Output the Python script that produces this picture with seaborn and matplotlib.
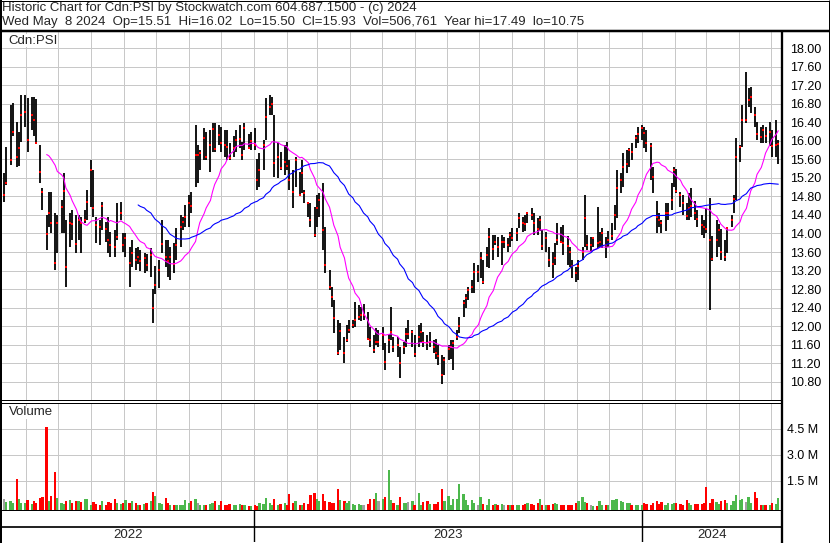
"""Stockwatch-style historic chart for Cdn:PSI: price bars with two moving
averages, a volume panel and a year strip underneath."""

import matplotlib

matplotlib.use("Agg")
import matplotlib.pyplot as plt
import pandas as pd
import seaborn as sns

# One bar per two trading days (May 2022 - May 2024).
HIGH = [
    15.30, 15.86, 16.77, 16.82, 16.40, 16.20, 16.99, 16.98, 16.92, 16.95,
    16.95, 16.90, 15.90, 14.98, 14.40, 14.90, 14.90, 14.44, 14.40, 14.72,
    15.30, 14.29, 14.44, 14.50, 14.40, 14.40, 14.35, 14.50, 14.94, 15.58,
    15.37, 14.35, 14.30, 14.67, 14.25, 14.35, 14.03, 14.07, 14.65, 14.67,
    14.00, 14.00, 13.70, 13.86, 13.68, 13.70, 13.65, 13.57, 13.55, 13.68,
    12.80, 13.30, 13.42, 14.29, 13.86, 13.86, 13.70, 13.80, 14.11, 14.40,
    14.35, 14.61, 14.83, 14.89, 16.34, 15.91, 15.80, 16.28, 16.20, 16.23,
    16.39, 16.39, 16.34, 16.30, 16.23, 16.23, 15.95, 16.10, 16.23, 16.34,
    15.97, 16.39, 16.15, 16.20, 16.28, 15.60, 15.73, 16.02, 16.92, 16.99,
    16.95, 16.55, 15.95, 15.75, 15.91, 15.97, 15.58, 15.37, 15.65, 15.33,
    15.58, 14.94, 14.67, 14.65, 14.57, 14.83, 14.87, 15.09, 14.14, 13.21,
    12.85, 12.56, 12.13, 12.06, 11.76, 12.02, 12.13, 12.13, 12.52, 12.45,
    12.41, 12.47, 12.30, 11.98, 11.80, 11.95, 11.91, 11.98, 11.63, 11.84,
    12.41, 11.76, 11.76, 11.54, 11.65, 11.95, 12.13, 11.91, 11.80, 12.02,
    12.06, 11.87, 11.80, 11.87, 11.69, 11.72, 11.59, 11.37, 11.33, 11.59,
    11.69, 11.69, 11.91, 12.20, 12.56, 12.70, 12.85, 13.00, 13.36, 13.32,
    13.60, 13.42, 13.70, 14.11, 13.96, 13.96, 13.92, 13.96, 13.92, 13.90,
    14.03, 14.11, 14.11, 14.44, 14.35, 14.40, 14.46, 14.55, 14.44, 14.33,
    14.38, 14.07, 14.03, 13.70, 13.60, 13.79, 14.22, 14.14, 14.18, 13.95,
    13.70, 13.42, 13.27, 13.42, 13.70, 14.83, 13.96, 13.92, 13.90, 14.57,
    14.03, 14.11, 13.92, 14.05, 14.22, 14.61, 15.37, 15.30, 15.73, 15.80,
    15.84, 15.95, 16.13, 16.30, 16.34, 16.30, 16.23, 15.95, 15.43, 14.70,
    14.44, 14.29, 14.65, 14.65, 15.09, 15.43, 15.40, 14.90, 14.83, 14.65,
    14.87, 14.98, 14.70, 14.50, 14.40, 14.30, 14.55, 14.76, 13.95, 14.29,
    14.20, 14.10, 13.86, 14.14, 14.40, 14.83, 16.06, 15.91, 16.77, 17.49,
    17.14, 17.16, 16.73, 16.40, 16.30, 16.35, 16.30, 16.40, 16.23, 16.45,
    16.02,
]
LOW = [
    14.68, 15.04, 15.48, 16.10, 15.43, 15.45, 15.97, 16.30, 15.76, 16.23,
    16.10, 15.93, 15.10, 14.50, 13.64, 14.13, 14.00, 13.21, 13.57, 14.00,
    14.00, 12.85, 13.70, 13.85, 13.57, 13.86, 13.57, 14.22, 14.29, 14.57,
    14.35, 13.79, 13.75, 14.07, 13.81, 13.57, 13.49, 13.49, 13.86, 14.29,
    13.60, 13.49, 12.85, 13.27, 13.21, 13.35, 13.20, 13.14, 13.20, 13.06,
    12.06, 12.70, 12.82, 13.57, 13.27, 13.06, 13.00, 13.15, 13.42, 13.70,
    14.07, 14.14, 14.14, 14.44, 15.00, 15.09, 15.37, 15.58, 15.58, 15.33,
    15.76, 15.76, 15.91, 15.75, 15.65, 15.58, 15.58, 15.65, 15.76, 15.84,
    15.58, 15.80, 15.82, 15.80, 15.80, 14.94, 15.00, 15.37, 16.02, 16.56,
    16.56, 15.22, 15.20, 15.37, 15.26, 15.37, 14.94, 14.55, 15.00, 14.80,
    14.87, 14.65, 14.35, 14.14, 13.92, 14.14, 14.35, 13.64, 13.14, 12.78,
    12.41, 11.85, 11.37, 11.48, 11.20, 11.65, 11.85, 11.95, 11.98, 12.13,
    12.10, 12.13, 11.69, 11.54, 11.41, 11.60, 11.54, 11.48, 11.05, 11.41,
    11.69, 11.44, 11.33, 10.88, 11.40, 11.54, 11.73, 11.54, 11.33, 11.54,
    11.65, 11.54, 11.48, 11.54, 11.41, 11.30, 11.15, 10.75, 10.94, 11.26,
    11.30, 11.05, 11.69, 11.85, 12.20, 12.40, 12.56, 12.71, 12.71, 12.95,
    13.03, 12.92, 13.27, 13.25, 13.42, 13.75, 13.50, 13.32, 13.68, 13.60,
    13.70, 13.83, 13.83, 14.11, 14.03, 14.05, 14.22, 14.29, 13.96, 13.96,
    14.05, 13.64, 13.60, 13.27, 13.03, 13.32, 13.75, 13.79, 13.53, 13.32,
    13.27, 13.03, 12.95, 13.00, 13.42, 13.70, 13.64, 13.60, 13.70, 13.68,
    13.70, 13.68, 13.46, 13.70, 13.86, 14.07, 14.33, 14.87, 15.00, 15.30,
    15.43, 15.58, 15.84, 15.95, 16.02, 15.84, 15.76, 15.15, 14.87, 14.00,
    14.14, 14.00, 14.05, 14.29, 14.50, 15.00, 14.87, 14.58, 14.40, 14.29,
    14.29, 14.35, 14.29, 14.14, 13.96, 13.90, 14.00, 12.34, 13.40, 13.49,
    13.70, 13.42, 13.40, 13.57, 14.14, 14.44, 14.72, 15.54, 15.87, 16.39,
    16.73, 16.60, 16.30, 16.02, 15.95, 15.95, 15.95, 15.89, 15.65, 15.65,
    15.50,
]
CLOSE = [
    14.83, 15.09, 15.58, 16.20, 15.65, 15.85, 16.55, 16.62, 16.02, 16.56,
    16.45, 15.95, 15.33, 14.90, 13.98, 14.44, 14.22, 13.36, 14.22, 14.57,
    14.92, 13.27, 14.22, 14.20, 13.77, 14.29, 14.22, 14.30, 14.67, 15.37,
    14.55, 14.18, 14.14, 14.60, 14.10, 13.86, 13.75, 13.70, 13.92, 14.44,
    13.75, 13.90, 13.36, 13.57, 13.42, 13.50, 13.40, 13.46, 13.32, 13.53,
    12.40, 12.88, 13.21, 13.77, 13.49, 13.40, 13.49, 13.34, 13.75, 14.14,
    14.25, 14.35, 14.65, 14.60, 15.69, 15.69, 15.73, 16.06, 15.65, 15.91,
    16.26, 15.82, 16.13, 15.95, 15.90, 15.87, 15.63, 15.85, 16.02, 16.05,
    15.69, 16.28, 15.85, 16.00, 15.90, 15.15, 15.37, 15.90, 16.52, 16.73,
    16.80, 15.52, 15.65, 15.41, 15.55, 15.45, 15.15, 14.90, 15.58, 14.83,
    15.30, 14.87, 14.65, 14.30, 13.96, 14.55, 14.72, 14.07, 13.32, 12.85,
    12.63, 12.17, 11.41, 11.89, 11.41, 11.69, 11.91, 12.02, 12.13, 12.20,
    12.24, 12.24, 11.73, 11.69, 11.48, 11.65, 11.65, 11.80, 11.22, 11.69,
    11.87, 11.55, 11.60, 11.20, 11.55, 11.84, 11.84, 11.87, 11.40, 11.76,
    11.87, 11.65, 11.63, 11.65, 11.54, 11.41, 11.35, 10.94, 11.26, 11.50,
    11.55, 11.63, 11.76, 12.00, 12.50, 12.60, 12.78, 12.85, 13.16, 13.16,
    13.46, 12.95, 13.53, 13.92, 13.66, 13.81, 13.70, 13.81, 13.81, 13.75,
    13.97, 13.90, 14.00, 14.33, 14.22, 14.20, 14.44, 14.40, 14.22, 14.10,
    14.29, 13.73, 13.90, 13.42, 13.35, 13.46, 13.85, 13.81, 13.79, 13.73,
    13.60, 13.30, 13.14, 13.30, 13.60, 14.33, 13.75, 13.75, 13.90, 13.80,
    13.82, 14.00, 13.75, 13.85, 13.95, 14.40, 14.98, 15.15, 15.43, 15.50,
    15.80, 15.75, 16.06, 16.15, 16.28, 16.17, 15.95, 15.89, 15.22, 14.35,
    14.30, 14.22, 14.44, 14.45, 14.72, 15.37, 14.92, 14.83, 14.65, 14.37,
    14.55, 14.60, 14.45, 14.31, 14.18, 14.14, 14.10, 13.86, 13.44, 13.85,
    14.07, 13.60, 13.50, 14.11, 14.30, 14.75, 15.65, 15.87, 16.45, 16.45,
    16.88, 16.95, 16.56, 16.15, 16.08, 16.23, 16.10, 16.20, 15.89, 15.90,
    15.93,
]
VOLUME_M = [
    0.40, 0.27, 0.32, 0.21, 1.60, 0.44, 0.21, 0.21, 0.35, 0.15,
    0.29, 0.21, 0.48, 0.54, 4.60, 0.29, 0.58, 2.00, 0.48, 0.21,
    0.15, 0.29, 0.35, 0.21, 0.29, 0.29, 0.25, 0.40, 0.44, 0.08,
    0.25, 0.15, 0.10, 0.29, 0.10, 0.25, 0.21, 0.40, 0.21, 0.15,
    0.21, 0.35, 0.21, 0.29, 0.21, 0.10, 0.10, 0.15, 0.21, 0.29,
    0.85, 0.60, 0.21, 0.15, 0.48, 0.21, 0.10, 0.06, 0.08, 0.10,
    0.10, 0.35, 0.21, 0.29, 0.40, 0.21, 0.10, 0.08, 0.06, 0.15,
    0.21, 0.29, 0.06, 0.29, 0.06, 0.10, 0.15, 0.10, 0.06, 0.15,
    0.10, 0.06, 0.04, 0.03, 0.10, 0.04, 0.21, 0.15, 0.48, 0.21,
    0.10, 0.40, 0.10, 0.15, 0.21, 0.06, 0.73, 0.21, 0.29, 0.10,
    0.06, 0.21, 0.15, 0.64, 0.77, 0.40, 0.29, 0.70, 0.29, 0.25,
    0.21, 0.21, 1.00, 0.35, 0.29, 0.21, 0.29, 0.15, 0.06, 0.15,
    0.10, 0.10, 0.15, 0.44, 0.40, 0.77, 0.29, 0.44, 0.55, 2.10,
    0.35, 0.21, 0.10, 0.54, 0.21, 0.21, 0.25, 0.29, 0.06, 0.77,
    0.10, 0.25, 0.29, 0.15, 0.15, 0.15, 0.25, 1.00, 0.29, 0.58,
    0.06, 0.44, 0.44, 1.27, 0.70, 0.35, 0.10, 0.35, 0.21, 0.10,
    0.54, 0.15, 0.06, 0.44, 0.10, 0.15, 0.10, 0.15, 0.06, 0.06,
    0.06, 0.06, 0.10, 0.06, 0.10, 0.15, 0.21, 0.15, 0.10, 0.21,
    0.40, 0.06, 0.06, 0.06, 0.15, 0.21, 0.15, 0.10, 0.06, 0.06,
    0.06, 0.06, 0.21, 0.29, 0.54, 0.25, 0.21, 0.06, 0.02, 0.02,
    0.29, 0.06, 0.10, 0.10, 0.35, 0.35, 0.40, 0.29, 0.25, 0.21,
    0.21, 0.10, 0.06, 0.06, 0.10, 0.21, 0.15, 0.10, 0.21, 0.29,
    0.15, 0.25, 0.10, 0.21, 0.15, 0.21, 0.21, 0.15, 0.10, 0.35,
    0.21, 0.10, 0.15, 0.15, 0.15, 0.21, 1.10, 0.21, 0.44, 0.25,
    0.15, 0.29, 0.35, 0.21, 0.06, 0.29, 0.64, 0.35, 0.40, 0.25,
    0.54, 0.21, 0.85, 0.48, 0.06, 0.06, 0.06, 0.06, 0.21, 0.15,
    0.51,
]

LAST_DATE = "2024-05-08"
HEADER = [
    "Historic Chart for Cdn:PSI by Stockwatch.com 604.687.1500 - (c) 2024",
    "Wed May  8 2024  Op=15.51  Hi=16.02  Lo=15.50  Cl=15.93  Vol=506,761  Year hi=17.49  lo=10.75",
]
TICKER = "Cdn:PSI"
PRICE_TICKS = [10.8, 11.2, 11.6, 12.0, 12.4, 12.8, 13.2, 13.6, 14.0, 14.4,
               14.8, 15.2, 15.6, 16.0, 16.4, 16.8, 17.2, 17.6, 18.0]
VOLUME_TICKS = [1.5, 3.0, 4.5]
YEARS = [2022, 2023, 2024]

FAST_WINDOW, SLOW_WINDOW = 15, 46   # ~30 and ~90 trading days
UP, DOWN, FLAT = "#4cb84c", "#ff0000", "#a0a0a0"
GRID = "#c8c8c8"
W, H = 830, 543
PX = 0.72  # one pixel in points at 100 dpi


def box(left, top, right, bottom):
    """Axes rectangle from pixel edges (y measured from the top)."""
    return [left / W, 1 - bottom / H, (right - left) / W, (bottom - top) / H]


def main():
    sns.set_style("white")
    plt.rcParams["font.family"] = ["Liberation Sans", "DejaVu Sans"]

    df = pd.DataFrame({"high": HIGH, "low": LOW, "close": CLOSE, "volume": VOLUME_M})
    df["date"] = pd.bdate_range(end=LAST_DATE, periods=len(df), freq="2B")
    df["fast"] = df["close"].rolling(FAST_WINDOW).mean()
    df["slow"] = df["close"].rolling(SLOW_WINDOW).mean()
    change = df["close"].diff()
    colours = [UP if c > 0 else DOWN if c < 0 else FLAT for c in change]

    xlim = (pd.Timestamp("2022-05-09"), pd.Timestamp("2024-05-11"))
    months = pd.date_range("2022-06-01", "2024-05-01", freq="MS")

    fig = plt.figure(figsize=(W / 100, H / 100), dpi=100)
    ax = fig.add_axes(box(2, 32, 781.5, 400))
    axv = fig.add_axes(box(2, 402.5, 781.5, 509.5))
    axs = fig.add_axes(box(2, 509.5, 781.5, 542))

    # --- price panel
    ax.vlines(df["date"], df["low"], df["high"], color="black", lw=1.3, zorder=2)
    sns.scatterplot(data=df, x="date", y="close", marker="s", s=2.5, color="red",
                    linewidth=0, ax=ax, zorder=3)
    sns.lineplot(data=df, x="date", y="fast", color="#ff00ff", lw=0.8, ax=ax, zorder=4)
    sns.lineplot(data=df, x="date", y="slow", color="#0000ff", lw=0.8, ax=ax, zorder=4)
    ax.set(xlim=xlim, ylim=(10.405, 18.35), xlabel="", ylabel="")
    ax.set_xticks(months)
    ax.set_yticks(PRICE_TICKS)
    ax.set_yticklabels([f"{v:.2f}" for v in PRICE_TICKS])
    ax.text(6 / 779.5, 0.993, TICKER, transform=ax.transAxes, va="top", fontsize=9.5,
            bbox=dict(fc="white", ec="none", pad=0.5), zorder=6)

    # --- volume panel (bars start at the panel floor, like the original)
    floor = -0.18
    axv.bar(df["date"], df["volume"] - floor, bottom=floor, width=2.2,
            color=colours, linewidth=0, zorder=2)
    axv.set(xlim=xlim, ylim=(floor, 6.02))
    axv.set_xticks(months)
    axv.set_yticks(VOLUME_TICKS)
    axv.set_yticklabels([f"{v:.1f} M" for v in VOLUME_TICKS])
    axv.text(7 / 779.5, 0.965, "Volume", transform=axv.transAxes, va="top",
             fontsize=9.5, bbox=dict(fc="white", ec="none", pad=0.5), zorder=6)

    for a, pad in ((ax, 6.5), (axv, 4)):
        a.yaxis.tick_right()
        a.tick_params(length=0, labelbottom=False, labelright=True, pad=pad,
                      labelsize=9, colors="black")
        a.grid(True, color=GRID, lw=PX)
        a.set_axisbelow(True)
        for s in a.spines.values():
            s.set_visible(False)

    # --- year strip
    axs.set_xlim(xlim)
    axs.set_ylim(0, 1)
    axs.axis("off")
    for year in YEARS:
        start = max(xlim[0], pd.Timestamp(f"{year}-01-01"))
        end = min(xlim[1], pd.Timestamp(f"{year + 1}-01-01"))
        if year != YEARS[0]:
            axs.axvline(start, color="black", lw=1.4 * PX)
        axs.text(start + (end - start) / 2, 0.22, str(year), ha="center",
                 va="center", fontsize=9.5)

    # --- frame, header rules and text (pixel coordinates)
    top = fig.add_axes([0, 0, 1, 1], facecolor="none", zorder=10)
    top.set(xlim=(0, W), ylim=(H, 0))
    top.axis("off")
    k = dict(color="black", solid_capstyle="butt")
    top.plot([1, 1], [0, H], lw=2 * PX, **k)
    top.plot([0, W], [0.5, 0.5], lw=PX, **k)
    top.plot([828.5, 828.5], [0, H], lw=PX, **k)
    top.plot([0, W], [542.5, 542.5], lw=PX, **k)
    top.plot([0, W], [30.5, 30.5], lw=2.5 * PX, **k)
    top.plot([781.5, 781.5], [31, H], lw=2.3 * PX, **k)
    top.plot([0, 781.5], [400, 400], lw=PX, **k)
    top.plot([0, 781.5], [402.5, 402.5], lw=PX, **k)
    top.plot([0, 781.5], [509.5, 509.5], lw=PX, **k)
    top.plot([0, 781.5], [527, 527], lw=1.7 * PX, **k)
    top.text(2, 11, HEADER[0], va="baseline", fontsize=9.5)
    top.text(2, 24.5, HEADER[1], va="baseline", fontsize=9.5)

    fig.savefig("out.png", dpi=100, facecolor="white")
    plt.close(fig)


if __name__ == "__main__":
    main()
